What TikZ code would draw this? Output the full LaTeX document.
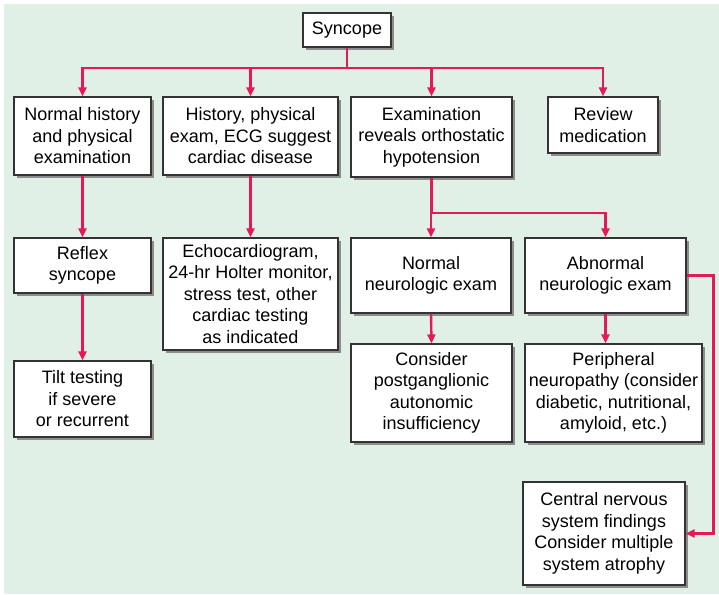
\documentclass[tikz,border=0pt]{standalone}
\usepackage{fontspec}
\setmainfont{Liberation Sans}
\usetikzlibrary{arrows.meta,shadows}
\definecolor{bgc}{HTML}{E1F0E6}
\definecolor{linc}{HTML}{E5195A}
\definecolor{boxc}{HTML}{333333}
\begin{document}
\begin{tikzpicture}[x=1pt,y=-1pt,
  box/.style={draw=boxc,line width=1.1pt,fill=white,align=center,inner sep=0pt,
    font=\fontsize{18}{21.5}\selectfont,
    drop shadow={shadow xshift=2.8pt,shadow yshift=-2.8pt,fill=black!45,opacity=1}},
  conn/.style={draw=linc,line width=2.4pt},
  arr/.style={conn,-{Triangle[length=9pt,width=8pt]}}]
\useasboundingbox (0,0) rectangle (719,594);
\fill[bgc] (4,4) rectangle (719,594);
\node[box,minimum width=88pt,minimum height=34pt] (syn) at (347,30) {Syncope};
\node[box,minimum width=137pt,minimum height=78pt] (b1) at (82.5,136) {Normal history\\and physical\\examination};
\node[box,minimum width=175pt,minimum height=78pt] (b2) at (250.5,136) {History, physical\\exam, ECG suggest\\cardiac disease};
\node[box,minimum width=161pt,minimum height=80pt] (b3) at (431.5,137) {Examination\\reveals orthostatic\\hypotension};
\node[box,minimum width=110pt,minimum height=56pt] (b4) at (603,125) {Review\\medication};
\node[box,minimum width=137pt,minimum height=55pt] (reflex) at (82.5,265.5) {Reflex\\syncope};
\node[box,minimum width=137pt,minimum height=76pt] (tilt) at (82.5,399) {Tilt testing\\if severe\\or recurrent};
\node[box,minimum width=175pt,minimum height=112pt] (echo) at (250.5,294) {Echocardiogram,\\24-hr Holter monitor,\\stress test, other\\cardiac testing\\as indicated};
\node[box,minimum width=160pt,minimum height=75pt] (norm) at (431,275.5) {Normal\\neurologic exam};
\node[box,minimum width=161pt,minimum height=75pt] (abn) at (605.5,275.5) {Abnormal\\neurologic exam};
\node[box,minimum width=161pt,minimum height=98pt] (cons) at (431.5,393) {Consider\\postganglionic\\autonomic\\insufficiency};
\node[box,minimum width=177pt,minimum height=98pt] (peri) at (613.5,393) {Peripheral\\neuropathy (consider\\diabetic, nutritional,\\amyloid, etc.)};
\node[box,minimum width=162pt,minimum height=103pt] (cns) at (604,533.5) {Central nervous\\system findings\\Consider multiple\\system atrophy};
\coordinate (bus) at (347,68);
\coordinate (bus2) at (431.5,213);
\draw[conn] (syn.south) -- (bus);
\draw[arr] (bus) -| (b1.north);
\draw[arr] (bus) -| (b2.north);
\draw[arr] (bus) -| (b3.north);
\draw[arr] (bus) -| (b4.north);
\draw[arr] (b1.south) -- (reflex.north);
\draw[arr] (reflex.south) -- (tilt.north);
\draw[arr] (b2.south) -- (echo.north);
\draw[conn] (b3.south) -- (bus2);
\draw[arr] (bus2) -| (norm.north);
\draw[arr] (bus2) -| (abn.north);
\draw[arr] (norm.south) -- (cons.north);
\draw[arr] (abn.south) -- (abn.south |- peri.north);
\draw[arr] (abn.east) -- ++(27,0) |- (cns.east);
\end{tikzpicture}
\end{document}
